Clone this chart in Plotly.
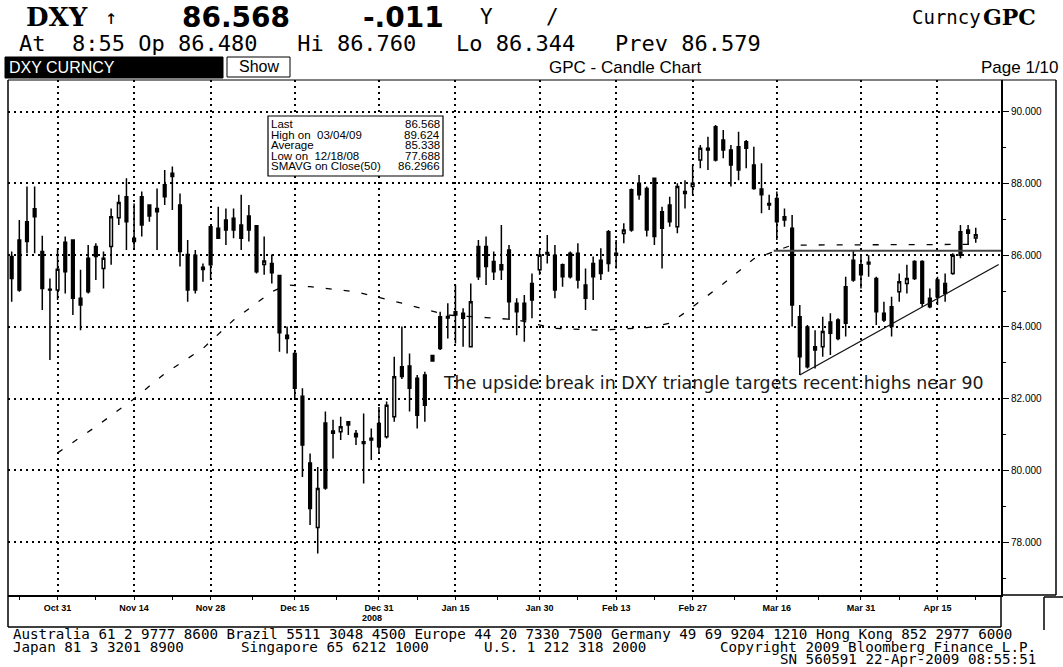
import plotly.graph_objects as go

# ---------------- data ----------------
open_ = [85.96, 86.42, 86.93, 87.29, 86.10, 85.05, 85.03, 86.36, 86.42, 84.80,
         85.91, 86.24, 85.63, 86.24, 87.04, 87.63, 86.47, 87.63, 87.40, 87.30,
         87.96, 88.28, 87.40, 86.02, 86.00, 85.66, 86.79, 86.75, 86.98, 87.03,
         86.84, 87.09, 86.82, 85.74, 85.77, 85.43, 83.77, 83.26, 82.07, 80.21,
         78.41, 81.32, 81.04, 81.08, 81.36, 81.03, 80.80, 80.85, 81.31, 80.94,
         81.50, 82.89, 82.91, 82.57, 82.66, 83.20, 84.28, 84.29, 84.42, 84.38,
         83.45, 86.24, 86.24, 85.82, 85.73, 86.14, 84.66, 84.66, 85.21, 85.59,
         86.03, 86.00, 85.73, 86.05, 86.05, 85.17, 85.77, 85.86, 86.65, 86.00,
         86.60, 87.82, 88.00, 87.86, 88.14, 87.21, 87.40, 86.79, 87.77, 87.91,
         88.65, 88.98, 89.58, 89.21, 88.93, 89.02, 89.16, 88.51, 87.84, 87.44,
         87.58, 87.07, 86.75, 84.28, 84.00, 83.45, 83.45, 84.14, 84.19, 85.12,
         85.86, 85.73, 85.80, 85.35, 84.38, 84.56, 84.98, 85.21, 85.82, 85.82,
         84.80, 85.31, 85.21, 85.49, 86.65, 86.70, 86.48]
high = [86.10, 86.98, 87.91, 87.91, 86.54, 85.35, 86.19, 86.52, 86.42, 85.59,
        86.28, 86.33, 86.10, 87.30, 87.68, 88.14, 87.44, 87.77, 87.40, 87.86,
        88.37, 88.47, 87.72, 86.42, 86.14, 85.77, 86.84, 87.35, 87.30, 87.30,
        87.68, 87.40, 86.84, 86.52, 86.02, 85.43, 84.01, 83.31, 82.29, 80.47,
        80.10, 81.64, 81.41, 81.50, 81.36, 81.13, 81.59, 81.17, 81.77, 81.92,
        83.17, 84.01, 83.26, 82.66, 82.75, 83.22, 84.42, 84.66, 85.17, 84.52,
        85.21, 86.42, 86.52, 86.10, 86.84, 86.28, 84.80, 84.89, 85.49, 86.14,
        86.56, 86.28, 85.77, 86.10, 86.33, 85.63, 85.96, 86.19, 86.70, 86.42,
        86.89, 87.86, 88.23, 87.91, 88.14, 87.35, 87.63, 88.00, 88.09, 88.51,
        89.07, 89.30, 89.624, 89.49, 89.07, 89.44, 89.21, 89.02, 88.56, 87.68,
        87.77, 87.30, 87.12, 84.61, 84.05, 83.91, 84.28, 84.38, 84.24, 85.40,
        86.14, 86.00, 86.00, 85.40, 84.70, 84.84, 85.49, 85.73, 85.86, 85.86,
        85.07, 85.40, 85.49, 86.05, 86.84, 86.84, 86.76]
low = [84.70, 84.98, 86.05, 86.05, 84.47, 83.08, 84.75, 84.93, 84.33, 83.91,
       84.93, 85.31, 85.07, 85.73, 86.84, 86.14, 86.14, 86.52, 86.93, 86.14,
       87.40, 87.26, 85.68, 84.70, 84.93, 85.26, 85.31, 86.47, 86.28, 86.47,
       86.14, 86.38, 85.49, 85.45, 85.21, 83.31, 83.26, 82.01, 79.82, 78.48,
       77.688, 79.46, 80.33, 80.85, 80.99, 80.71, 79.64, 80.29, 80.47, 80.89,
       81.36, 82.55, 81.64, 81.17, 81.36, 83.03, 83.36, 83.68, 83.54, 83.45,
       83.45, 85.31, 85.17, 85.31, 85.31, 84.19, 83.77, 83.59, 84.24, 85.45,
       85.77, 84.80, 85.12, 85.35, 85.07, 84.47, 84.75, 85.31, 85.54, 85.63,
       86.33, 86.65, 87.54, 86.52, 86.28, 85.63, 86.79, 86.61, 87.30, 87.68,
       88.42, 88.37, 88.61, 88.70, 87.91, 88.09, 88.42, 87.82, 87.17, 87.26,
       86.42, 86.79, 84.01, 82.66, 82.84, 82.84, 83.17, 83.22, 83.63, 83.73,
       85.26, 85.07, 85.40, 84.05, 84.14, 83.73, 84.70, 84.93, 85.31, 84.56,
       84.52, 84.61, 84.70, 85.45, 85.91, 86.28, 86.344]
close = [85.35, 85.03, 86.38, 87.07, 85.07, 85.03, 85.61, 85.54, 84.80, 84.61,
         84.98, 85.96, 85.91, 87.07, 87.47, 86.93, 86.38, 86.84, 87.09, 87.21,
         87.63, 88.19, 86.10, 85.03, 85.03, 85.60, 85.73, 86.47, 86.70, 86.70,
         86.47, 86.70, 85.54, 85.84, 85.51, 83.84, 83.68, 82.29, 80.71, 78.94,
         79.50, 79.51, 81.10, 81.22, 81.27, 80.94, 80.75, 80.90, 80.66, 81.82,
         82.61, 82.62, 82.29, 81.54, 81.82, 83.05, 83.40, 84.25, 84.33, 84.24,
         84.70, 85.40, 85.68, 85.54, 85.59, 84.70, 84.42, 84.19, 84.75, 86.00,
         86.07, 85.03, 85.40, 85.40, 85.31, 84.80, 85.40, 85.49, 85.77, 86.05,
         86.70, 86.70, 87.68, 86.70, 86.52, 86.75, 86.93, 87.91, 87.72, 88.00,
         88.98, 88.93, 88.65, 88.93, 88.51, 88.37, 88.98, 87.86, 87.68, 87.40,
         86.93, 86.98, 84.61, 83.17, 82.89, 83.36, 83.87, 83.82, 83.68, 84.10,
         85.31, 85.45, 85.75, 84.42, 84.19, 84.01, 85.26, 85.35, 85.35, 84.66,
         84.56, 84.84, 84.93, 86.00, 86.00, 86.61, 86.568]

# 50-day simple moving average, read at a few candle positions
ma_idx = [6, 11, 16, 20, 25, 29, 34, 36, 39, 45, 51, 57, 62, 66, 71, 77, 83, 86,
          88, 93, 97, 100, 102, 126]
ma_val = [80.49, 81.22, 82.00, 82.70, 83.40, 84.19, 84.98, 85.17, 85.12, 84.98,
          84.66, 84.33, 84.26, 84.20, 83.96, 83.91, 83.98, 84.10, 84.40, 85.20,
          85.90, 86.12, 86.28, 86.30]

tick_idx = [6, 16, 26, 37, 48, 58, 69, 79, 89, 100, 111, 121]
tick_labels = ["Oct 31", "Nov 14", "Nov 28", "Dec 15", "Dec 31", "Jan 15",
               "Jan 30", "Feb 13", "Feb 27", "Mar 16", "Mar 31", "Apr 15"]
minor_idx = [1, 11, 21, 31.5, 42.5, 53, 63.5, 74, 84, 94.5, 105.5, 116, 126]

resist_idx = [99.6, 129.3]
resist_val = [86.12, 86.12]
trend_idx = [103, 129]
trend_val = [82.66, 85.74]

legend_labels = ["Last", "High on  03/04/09", "Average", "Low on  12/18/08",
                 "SMAVG on Close(50)"]
legend_values = ["86.568", "89.624", "85.338", "77.688", "86.2966"]

# ---------------- layout helpers (pixel -> paper) ----------------
L, R, T, B = 8, 1001, 80, 595
W, H = 1063, 667


def PX(x):
    return (x - L) / (R - L)


def PY(y):
    return (B - y) / (B - T)


fig = go.Figure()

fig.add_trace(go.Candlestick(
    x=list(range(len(open_))), open=open_, high=high, low=low, close=close,
    increasing=dict(line=dict(color="black", width=1.5), fillcolor="white"),
    decreasing=dict(line=dict(color="black", width=1.5), fillcolor="black"),
    whiskerwidth=0, showlegend=False, hoverinfo="skip"))

fig.add_trace(go.Scatter(x=ma_idx, y=ma_val, mode="lines",
                         line=dict(color="black", width=1.3, dash="6px,12px"),
                         showlegend=False, hoverinfo="skip"))
fig.add_trace(go.Scatter(x=resist_idx, y=resist_val, mode="lines",
                         line=dict(color="#444444", width=2),
                         showlegend=False, hoverinfo="skip"))
fig.add_trace(go.Scatter(x=trend_idx, y=trend_val, mode="lines",
                         line=dict(color="#111111", width=1.3),
                         showlegend=False, hoverinfo="skip"))

ann = []


def text(x, y, s, size, family="Liberation Sans", color="black",
         xanchor="left", weight="normal"):
    ann.append(dict(x=PX(x), y=PY(y), xref="paper", yref="paper", text=s,
                    showarrow=False, xanchor=xanchor, yanchor="middle",
                    borderpad=0,
                    font=dict(size=size, family=family, color=color,
                              weight=weight)))


# header line 1
text(57, 17, "DXY", 26, "DejaVu Serif", xanchor="center", weight="bold")
text(111, 17, "↑", 20, "DejaVu Sans Mono", xanchor="center")
text(236, 17, "86.568", 28, "DejaVu Sans", xanchor="center", weight="bold")
text(403, 17, "-.011", 28, "DejaVu Sans", xanchor="center", weight="bold")
text(486, 17, "Y", 21, "DejaVu Sans Mono", xanchor="center")
text(552, 17, "/", 21, "DejaVu Sans Mono", xanchor="center")
text(982, 17, "Curncy", 19, "DejaVu Sans Mono", xanchor="right")
text(982, 17, "GPC", 22, "DejaVu Serif", xanchor="left", weight="bold")
# header line 2
text(18, 43, "At  8:55 Op 86.480   Hi 86.760   Lo 86.344   Prev 86.579", 22,
     "DejaVu Sans Mono")
# header line 3
text(8, 67.5, "DXY CURNCY", 16, color="white")
text(258.5, 66.5, "Show", 16, xanchor="center")
text(625, 67.5, "GPC - Candle Chart", 17, xanchor="center")
text(1060, 67.5, "Page 1/10", 17, xanchor="right")

# stats box
for k, (lab, val) in enumerate(zip(legend_labels, legend_values)):
    yy = 124 + k * 10.6
    text(270, yy, lab, 11.5)
    text(441, yy, val, 11.5, xanchor="right")

# chart note
text(442, 383, "The upside break in DXY triangle targets recent highs near 90",
     17.4, "DejaVu Sans", color="#1a1a1a")
text(372, 618, "2008", 9, xanchor="center", weight="bold")

# footer
mono = "DejaVu Sans Mono"
fs = 14.2
text(12, 633.5, "Australia 61 2 9777 8600 Brazil 5511 3048 4500 Europe 44 20 7330 "
     "7500 Germany 49 69 9204 1210 Hong Kong 852 2977 6000", fs, mono)
text(12, 646.5, "Japan 81 3 3201 8900", fs, mono)
text(240, 646.5, "Singapore 65 6212 1000", fs, mono)
text(483, 646.5, "U.S. 1 212 318 2000", fs, mono)
text(1037, 646.5, "Copyright 2009 Bloomberg Finance L.P.", fs, mono,
     xanchor="right")
text(1037, 659, "SN 560591 22-Apr-2009 08:55:51", fs, mono, xanchor="right")

shapes = []


def rect(x0, y0, x1, y1, fill=None, lw=1, color="black"):
    shapes.append(dict(type="rect", xref="paper", yref="paper",
                       x0=PX(x0), x1=PX(x1), y0=PY(y0), y1=PY(y1),
                       line=dict(color=color, width=lw),
                       fillcolor=fill if fill else "rgba(0,0,0,0)",
                       layer="above"))


def seg(x0, y0, x1, y1, lw=1, color="black"):
    shapes.append(dict(type="line", xref="paper", yref="paper",
                       x0=PX(x0), x1=PX(x1), y0=PY(y0), y1=PY(y1),
                       line=dict(color=color, width=lw), layer="above"))


rect(5, 57, 223, 78, fill="black")
rect(227, 57, 290, 77, fill="white")
rect(268, 116, 443, 176, fill="white", lw=1.2)
seg(8, 80, 1056, 80)            # top frame
seg(8, 80, 8, 627, lw=1.5)      # left frame
seg(8, 627, 1001, 627, lw=1.5)  # bottom of date strip
seg(1001, 595, 1001, 627, lw=1.5)
seg(1056, 80, 1056, 595, lw=1.5)
seg(1001, 595, 1056, 595, lw=1.5)
seg(1044, 597, 1044, 630, lw=1.5)
seg(1044, 597, 1063, 597, lw=1.5)

fig.update_layout(
    width=W, height=H, margin=dict(l=L, r=W - R, t=T, b=H - B),
    paper_bgcolor="white", plot_bgcolor="white",
    boxgap=0.5, annotations=ann, shapes=shapes,
    xaxis=dict(range=[-0.48, 129.3], rangeslider=dict(visible=False),
               tickmode="array", tickvals=tick_idx, ticktext=tick_labels,
               tickfont=dict(size=9, family="Liberation Sans", color="black",
                             weight="bold"),
               ticks="outside", ticklen=3, tickcolor="black",
               showline=True, linecolor="black", linewidth=1.5,
               showgrid=True, gridcolor="black", gridwidth=1.5,
               griddash="2px,4px", zeroline=False, automargin=False,
               minor=dict(tickvals=minor_idx, ticks="outside", ticklen=3,
                          tickcolor="black", showgrid=False)),
    yaxis=dict(range=[76.53, 90.88], side="right", tickmode="linear",
               tick0=78, dtick=2, tickformat=".3f",
               tickfont=dict(size=10, family="Liberation Sans", color="black"),
               ticks="outside", ticklen=6, tickcolor="black",
               showline=True, linecolor="black", linewidth=2,
               showgrid=True, gridcolor="black", gridwidth=1.5,
               griddash="2px,4px", zeroline=False, automargin=False,
               minor=dict(dtick=1, ticks="outside", ticklen=3,
                          tickcolor="black", showgrid=False)),
)

fig.write_html("out.html", config={"displayModeBar": False},
               post_script="document.body.style.margin='0';")
